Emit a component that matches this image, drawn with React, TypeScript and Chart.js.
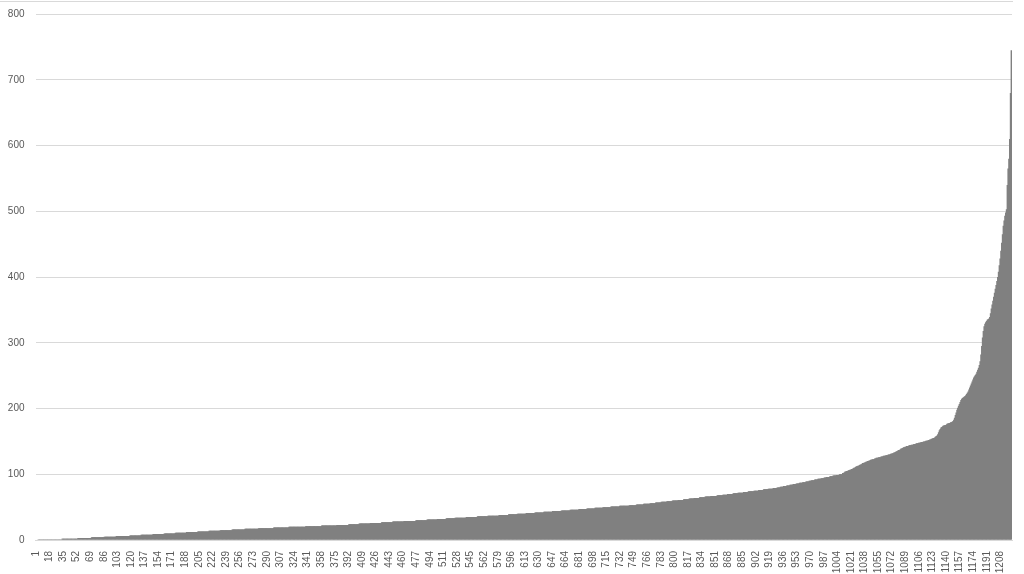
import React, { useEffect, useRef } from 'react'
import { Chart, BarController, BarElement, CategoryScale, LinearScale } from 'chart.js'

Chart.register(BarController, BarElement, CategoryScale, LinearScale)

const lowRuns: [number, number][] = [
  [0, 3], [1, 30], [2, 20], [3, 17], [4, 16], [5, 15], [6, 17], [7, 14], [8, 15], [9, 14],
  [10, 14], [11, 14], [12, 14], [13, 14], [14, 14], [15, 15], [16, 16], [17, 17], [18, 19], [19, 19],
  [20, 21], [21, 20], [22, 19], [23, 15], [24, 13], [25, 14], [26, 14], [27, 14], [28, 14], [29, 15],
  [30, 14], [31, 13], [32, 11], [33, 11], [34, 14], [35, 14], [36, 13], [37, 14], [38, 12], [39, 11],
  [40, 11], [41, 11], [42, 11], [43, 11], [44, 11], [45, 11], [46, 11], [47, 10], [48, 10], [49, 10],
  [50, 10], [51, 11], [52, 12], [53, 9], [54, 9], [55, 8], [56, 7], [57, 7], [58, 7], [59, 7],
  [60, 7], [61, 7], [62, 7], [63, 6], [64, 7], [65, 7], [66, 7], [67, 8], [68, 7], [69, 6],
  [70, 7], [71, 6], [72, 7], [73, 6], [74, 7], [75, 6], [76, 6], [77, 6], [78, 6], [79, 5],
  [80, 4], [81, 4], [82, 4], [83, 4], [84, 4], [85, 4], [86, 4], [87, 4], [88, 4], [89, 4],
  [90, 3], [91, 4], [92, 4], [93, 4], [94, 4], [95, 3], [96, 4], [97, 4], [98, 4], [99, 4],
  [100, 4],
]

// bars 1011..1222
const tailValues = [
  102, 102, 103, 104, 104, 105, 105, 106, 106, 107,
  107, 108, 108, 109, 110, 110, 111, 112, 112, 113,
  113, 114, 115, 115, 116, 117, 117, 118, 118, 119,
  119, 120, 120, 121, 121, 122, 122, 123, 123, 123,
  124, 124, 125, 125, 125, 126, 126, 126, 127, 127,
  127, 128, 128, 128, 129, 129, 129, 130, 130, 130,
  131, 131, 132, 132, 133, 133, 134, 135, 135, 136,
  137, 137, 138, 139, 139, 140, 141, 141, 142, 142,
  143, 143, 143, 144, 144, 144, 145, 145, 145, 146,
  146, 146, 147, 147, 147, 148, 148, 148, 149, 149,
  149, 150, 150, 150, 151, 151, 151, 152, 152, 153,
  153, 154, 154, 155, 155, 156, 157, 158, 159, 161,
  164, 167, 169, 171, 172, 173, 174, 174, 175, 175,
  176, 177, 177, 178, 178, 179, 179, 180, 181, 183,
  186, 190, 194, 198, 201, 204, 207, 210, 213, 215,
  216, 217, 218, 219, 220, 222, 224, 226, 229, 232,
  235, 238, 241, 244, 247, 249, 251, 253, 256, 259,
  262, 266, 272, 282, 295, 308, 318, 325, 329, 331,
  333, 335, 336, 337, 339, 345, 352, 358, 364, 370,
  376, 382, 388, 394, 400, 408, 418, 428, 440, 452,
  465, 478, 486, 493, 498, 503, 540, 565, 580, 610,
  680, 745,
]

const labelStep = 17
const yMax = 800
const yStep = 100

const values: number[] = []
lowRuns.forEach(([v, n]) => { for (let i = 0; i < n; i++) values.push(v) })
values.push(...tailValues)
const categories = values.map((_, i) => String(i + 1))

const FONT = '"Liberation Sans", Arial, sans-serif'
const GRID = '#d9d9d9'
const TEXT = '#595959'

export default function App() {
  const canvasRef = useRef<HTMLCanvasElement>(null)
  const chartRef = useRef<Chart | null>(null)

  useEffect(() => {
    if (!canvasRef.current) return
    chartRef.current?.destroy()
    chartRef.current = new Chart(canvasRef.current, {
      type: 'bar',
      data: {
        labels: categories,
        datasets: [{
          data: values,
          backgroundColor: '#808080',
          borderWidth: 0,
          // bars are under 1px wide; let neighbours overlap so no seams show
          barPercentage: 2.5,
          categoryPercentage: 1,
          inflateAmount: 0,
        }],
      },
      options: {
        responsive: true,
        maintainAspectRatio: false,
        animation: false,
        events: [],
        layout: { padding: { top: 14, right: 12, left: 0, bottom: 0 } },
        plugins: { legend: { display: false }, tooltip: { enabled: false } },
        scales: {
          x: {
            grid: { display: false },
            border: { color: GRID },
            ticks: {
              autoSkip: false,
              minRotation: 90,
              maxRotation: 90,
              padding: 3,
              color: TEXT,
              font: { family: FONT, size: 10 },
              callback: (_v: any, i: number) => (i % labelStep === 0 ? categories[i] : null),
            },
            afterFit: (s: any) => { s.height = 34 },
          },
          y: {
            min: 0,
            max: yMax,
            grid: { color: GRID, drawTicks: false },
            border: { display: false },
            ticks: {
              stepSize: yStep,
              padding: 11,
              color: TEXT,
              font: { family: FONT, size: 10 },
            },
            afterFit: (s: any) => {
              s.width = 35.5
              s.paddingTop = 0
              s.paddingBottom = 0
            },
          },
        },
      },
    })
    return () => { chartRef.current?.destroy() }
  }, [])

  return (
    <div style={{ position: 'fixed', left: 0, top: 0, width: 1024, height: 574, background: '#fff' }}>
      <div style={{ position: 'absolute', left: 0, top: 1, width: 1013, height: 1, background: GRID }} />
      <canvas ref={canvasRef} style={{ width: '100%', height: '100%' }} />
    </div>
  )
}
